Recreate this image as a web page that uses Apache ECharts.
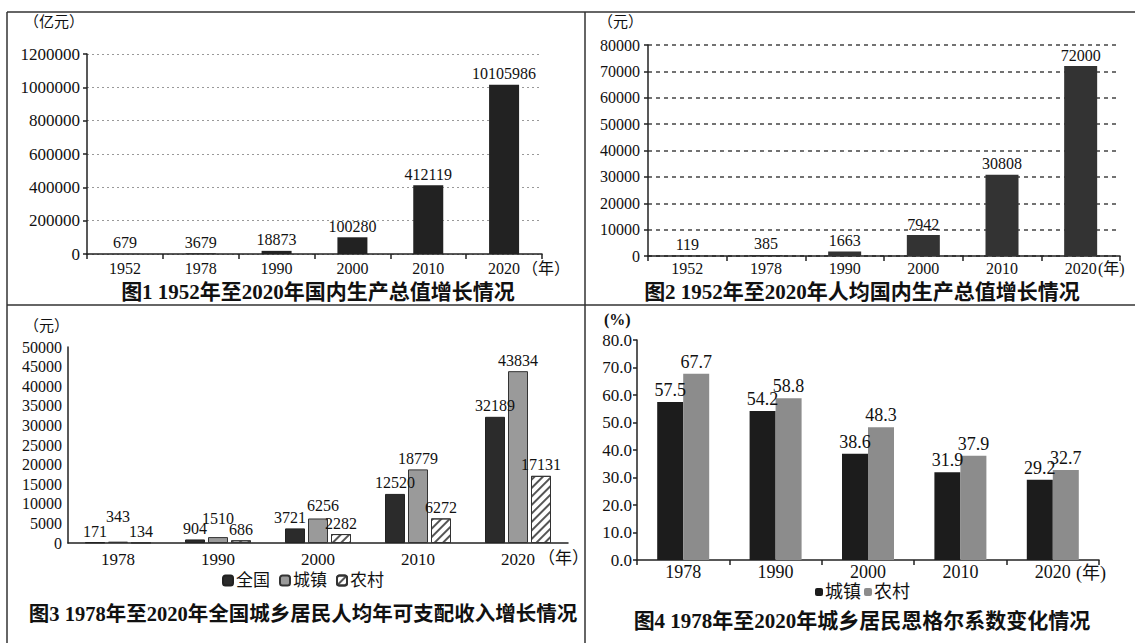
<!DOCTYPE html>
<html lang="zh">
<head>
<meta charset="UTF-8">
<title>国内生产总值与居民收入</title>
<style>
  html, body { margin: 0; padding: 0; background: #fff; }
  #main { width: 1135px; height: 643px; }
</style>
</head>
<body>
<div id="main"></div>
<script src="https://cdn.jsdelivr.net/npm/echarts@6/dist/echarts.min.js"></script>
<script>
// 图1 国内生产总值（亿元）
var gdpYears = ['1952', '1978', '1990', '2000', '2010', '2020'];
var gdpValues = [679, 3679, 18873, 100280, 412119, 1015986];
var gdpLabels = ['679', '3679', '18873', '100280', '412119', '10105986'];

// 图2 人均国内生产总值（元）
var perYears = ['1952', '1978', '1990', '2000', '2010', '2020'];
var perValues = [119, 385, 1663, 7942, 30808, 72000];

// 图3 人均可支配收入（元）
var incYears = ['1978', '1990', '2000', '2010', '2020'];
var incAll = [171, 904, 3721, 12520, 32189];
var incTown = [343, 1510, 6256, 18779, 43834];
var incRural = [134, 686, 2282, 6272, 17131];

// 图4 恩格尔系数（%）
var engYears = ['1978', '1990', '2000', '2010', '2020'];
var engTown = [57.5, 54.2, 38.6, 31.9, 29.2];
var engRural = [67.7, 58.8, 48.3, 37.9, 32.7];

var FONT = '"Liberation Serif", "Noto Sans CJK SC", serif';
var INK = '#111';

var myChart = echarts.init(document.getElementById('main'), null, {renderer: 'svg'});

function catAxis(grid, data, margin, size, ticks) {
    return {
        type: 'category', gridIndex: grid, data: data,
        axisLine: {lineStyle: {color: '#222', width: 1.5}},
        axisTick: {show: ticks, length: 5, lineStyle: {color: '#222', width: 1.5}},
        axisLabel: {color: INK, fontSize: size, fontFamily: FONT, margin: margin}
    };
}

function valAxis(grid, max, step, margin, size, ticks, split, fmt) {
    return {
        type: 'value', gridIndex: grid, min: 0, max: max, interval: step,
        axisLine: {show: true, lineStyle: {color: '#222', width: 1.5}},
        axisTick: {show: ticks, length: 4, lineStyle: {color: '#222', width: 1.5}},
        axisLabel: {color: INK, fontSize: size, fontFamily: FONT, margin: margin, formatter: fmt},
        splitLine: split
    };
}

function lbl(size, fmt) {
    var l = {show: true, position: 'top', distance: 3, color: INK, fontSize: size, fontFamily: FONT};
    if (fmt) l.formatter = fmt;
    return l;
}

// 原图里有几个数字标签被挪开，免得挤在一起
var allData = incAll.map(function (v, i) {
    if (i === 2) return {value: v, label: {offset: [-5, 0]}};
    return v;
});
var townData = incTown.map(function (v, i) {
    if (i === 0) return {value: v, label: {offset: [0, -14]}};
    if (i === 1) return {value: v, label: {offset: [0, -8]}};
    if (i === 2) return {value: v, label: {offset: [5, -2]}};
    return v;
});

function unit(text, x, y, size, bold) {
    return {type: 'text', left: x, top: y,
        style: {text: text, fill: INK, font: (bold ? 'bold ' : '') + size + 'px ' + FONT}};
}

function frame(x1, y1, x2, y2) {
    return {type: 'line', shape: {x1: x1, y1: y1, x2: x2, y2: y2},
        style: {stroke: '#333', lineWidth: 1.5}};
}

var titleStyle = {color: INK, fontSize: 21, fontWeight: 'bold', fontFamily: FONT};

myChart.setOption({
    animation: false,
    title: [
        {text: '图1 1952年至2020年国内生产总值增长情况', left: 318, top: 281, textAlign: 'center', padding: 0, textStyle: titleStyle},
        {text: '图2 1952年至2020年人均国内生产总值增长情况', left: 862, top: 281, textAlign: 'center', padding: 0, textStyle: titleStyle},
        {text: '图3 1978年至2020年全国城乡居民人均年可支配收入增长情况', left: 303, top: 604, textAlign: 'center', padding: 0,
            textStyle: {color: INK, fontSize: 20.5, fontWeight: 'bold', fontFamily: FONT}},
        {text: '图4 1978年至2020年城乡居民恩格尔系数变化情况', left: 862, top: 610, textAlign: 'center', padding: 0, textStyle: titleStyle}
    ],
    legend: [
        {data: ['全国', '城镇', '农村'], left: 222, top: 572, itemWidth: 10, itemHeight: 10, itemGap: 9, padding: 0,
            textStyle: {color: INK, fontSize: 17, fontFamily: FONT, padding: [0, 0, 0, -2]}},
        {data: ['城镇 ', '农村 '], left: 815, top: 583, itemWidth: 8, itemHeight: 8, itemGap: 3, padding: 0,
            textStyle: {color: INK, fontSize: 18, fontFamily: FONT, padding: [0, 0, 0, -3]},
            formatter: function (n) { return n.trim(); }}
    ],
    grid: [
        {left: 87, top: 54, width: 455, height: 200},
        {left: 648, top: 45, width: 472, height: 211},
        {left: 68, top: 347, width: 500, height: 196},
        {left: 637, top: 340, width: 462, height: 220}
    ],
    xAxis: [
        catAxis(0, gdpYears, 6, 16, true),
        catAxis(1, perYears, 4, 16, true),
        catAxis(2, incYears, 8, 17, false),
        catAxis(3, engYears, 3, 18, true)
    ],
    yAxis: [
        valAxis(0, 1200000, 200000, 7, 17, true,
            {show: true, lineStyle: {color: '#999', type: [2, 3]}}, function (v) { return String(v); }),
        valAxis(1, 80000, 10000, 8, 16, true,
            {show: true, lineStyle: {color: '#444', width: 1.5, type: [4, 4]}}, function (v) { return String(v); }),
        valAxis(2, 50000, 5000, 6, 16, false, {show: false}, function (v) { return String(v); }),
        valAxis(3, 80, 10, 5, 17, true, {show: false}, function (v) { return v.toFixed(1); })
    ],
    series: [
        {type: 'bar', xAxisIndex: 0, yAxisIndex: 0, data: gdpValues, barWidth: 30,
            itemStyle: {color: '#222'},
            label: lbl(16, function (p) { return gdpLabels[p.dataIndex]; })},
        {type: 'bar', xAxisIndex: 1, yAxisIndex: 1, data: perValues, barWidth: 33,
            itemStyle: {color: '#333'}, label: lbl(16)},
        {name: '全国', type: 'bar', xAxisIndex: 2, yAxisIndex: 2, data: allData, barWidth: 20, barGap: '15%',
            itemStyle: {color: '#2b2b2b', borderColor: '#222', borderWidth: 1}, label: lbl(16)},
        {name: '城镇', type: 'bar', xAxisIndex: 2, yAxisIndex: 2, data: townData, barWidth: 20, barGap: '15%',
            itemStyle: {color: '#9a9a9a', borderColor: '#333', borderWidth: 1}, label: lbl(16)},
        {name: '农村', type: 'bar', xAxisIndex: 2, yAxisIndex: 2, data: incRural, barWidth: 20, barGap: '15%',
            itemStyle: {color: '#fff', borderColor: '#333', borderWidth: 1,
                decal: {symbol: 'rect', symbolSize: 1, color: '#555', dashArrayX: [1, 0], dashArrayY: [1.5, 4], rotation: -Math.PI / 4}},
            label: lbl(16)},
        {name: '城镇 ', type: 'bar', xAxisIndex: 3, yAxisIndex: 3, data: engTown, barWidth: 26, barGap: 0,
            itemStyle: {color: '#1c1c1c'}, label: lbl(18)},
        {name: '农村 ', type: 'bar', xAxisIndex: 3, yAxisIndex: 3, data: engRural, barWidth: 26, barGap: 0,
            itemStyle: {color: '#8c8c8c'}, label: lbl(18)}
    ],
    graphic: [
        frame(7, 12, 1135, 12),
        frame(7, 12, 7, 643),
        frame(7, 305, 1135, 305),
        frame(585, 12, 585, 643),
        unit('（亿元）', 24, 14, 15),
        unit('（元）', 598, 14, 15),
        unit('（元）', 24, 318, 15),
        unit('(%)', 604, 311, 16, true),
        unit('（年）', 522, 260, 16),
        unit('(年)', 1098, 260, 16),
        unit('（年）', 538, 550, 17),
        unit('(年)', 1076, 564, 18)
    ]
});

window.addEventListener('resize', function () {
    myChart.resize();
});
</script>
</body>
</html>
